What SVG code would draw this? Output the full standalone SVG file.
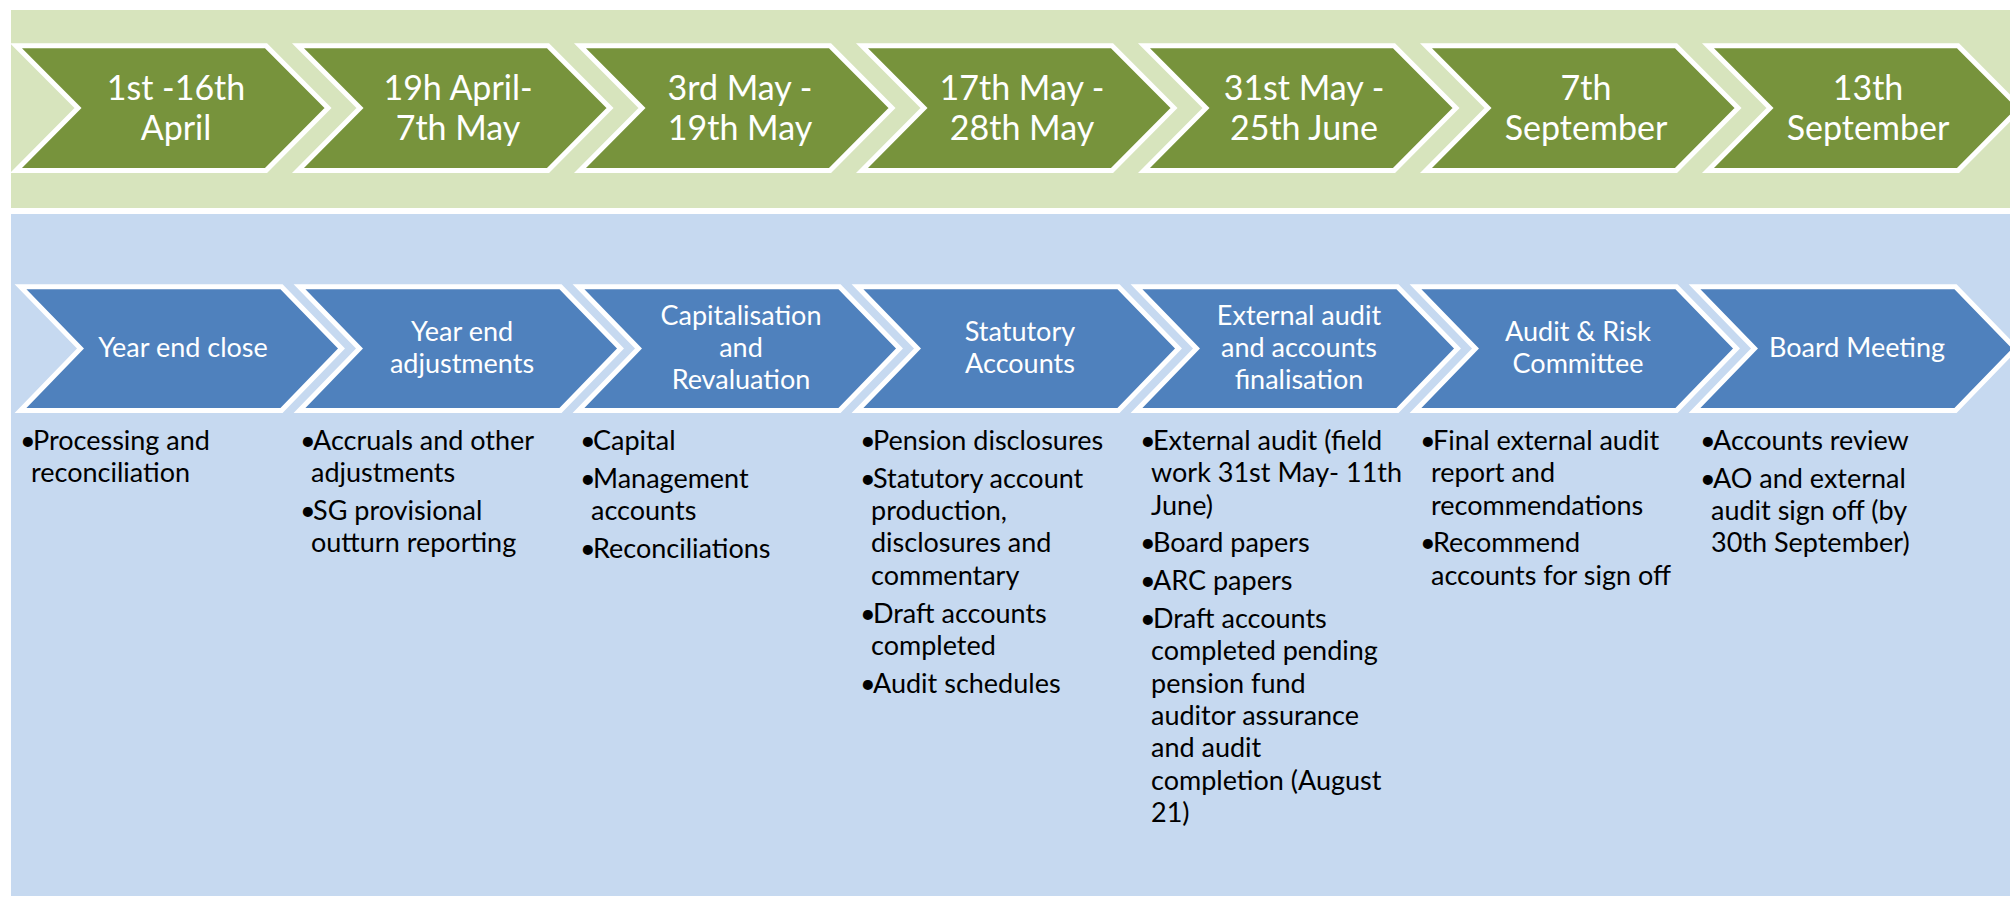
<svg xmlns="http://www.w3.org/2000/svg" width="2010" height="899" viewBox="0 0 2010 899">
<defs>
<style>
.gband{fill:#D7E4BD}
.bband{fill:#C6D9F0}
.gchev{fill:#77933C;stroke:#FFFFFF;stroke-width:5}
.bchev{fill:#4F81BD;stroke:#FFFFFF;stroke-width:5}
.gt{font-family:Lato,"Liberation Sans",sans-serif;font-size:34px;fill:#FFFFFF;text-anchor:middle}
.bt{font-family:Lato,"Liberation Sans",sans-serif;font-size:27px;fill:#FFFFFF;text-anchor:middle}
.li{font-family:Lato,"Liberation Sans",sans-serif;font-size:27px;fill:#000000}
</style>
<path id="gshape" d="M0,45.8 H250 L312,108 L250,170.5 H0 L62,108 Z"/>
<path id="bshape" d="M0,286.7 H261 L321,348.6 L261,410.5 H0 L60,348.6 Z"/>
</defs>
<rect class="gband" x="11" y="10" width="1999" height="198"/>
<rect class="bband" x="11" y="214" width="1999" height="682"/>

<g id="dates">
<g id="date1"><use href="#gshape" class="gchev" x="16"/><text class="gt"><tspan x="176" y="100">1st -16th</tspan><tspan x="176" y="140">April</tspan></text></g>
<g id="date2"><use href="#gshape" class="gchev" x="298"/><text class="gt"><tspan x="458" y="100">19h April-</tspan><tspan x="458" y="140">7th May</tspan></text></g>
<g id="date3"><use href="#gshape" class="gchev" x="580"/><text class="gt"><tspan x="740" y="100">3rd May -</tspan><tspan x="740" y="140">19th May</tspan></text></g>
<g id="date4"><use href="#gshape" class="gchev" x="862"/><text class="gt"><tspan x="1022" y="100">17th May -</tspan><tspan x="1022" y="140">28th May</tspan></text></g>
<g id="date5"><use href="#gshape" class="gchev" x="1144"/><text class="gt"><tspan x="1304" y="100">31st May -</tspan><tspan x="1304" y="140">25th June</tspan></text></g>
<g id="date6"><use href="#gshape" class="gchev" x="1426"/><text class="gt"><tspan x="1586" y="100">7th</tspan><tspan x="1586" y="140">September</tspan></text></g>
<g id="date7"><use href="#gshape" class="gchev" x="1708"/><text class="gt"><tspan x="1868" y="100">13th</tspan><tspan x="1868" y="140">September</tspan></text></g>
</g>

<g id="stages">
<g id="stage1"><use href="#bshape" class="bchev" x="20.5"/><text class="bt"><tspan x="183" y="357">Year end close</tspan></text></g>
<g id="stage2"><use href="#bshape" class="bchev" x="299.5"/><text class="bt"><tspan x="462" y="341">Year end</tspan><tspan x="462" y="373">adjustments</tspan></text></g>
<g id="stage3"><use href="#bshape" class="bchev" x="578.5"/><text class="bt"><tspan x="741" y="325">Capitalisation</tspan><tspan x="741" y="357">and</tspan><tspan x="741" y="389">Revaluation</tspan></text></g>
<g id="stage4"><use href="#bshape" class="bchev" x="857.5"/><text class="bt"><tspan x="1020" y="341">Statutory</tspan><tspan x="1020" y="373">Accounts</tspan></text></g>
<g id="stage5"><use href="#bshape" class="bchev" x="1136.5"/><text class="bt"><tspan x="1299" y="325">External audit</tspan><tspan x="1299" y="357">and accounts</tspan><tspan x="1299" y="389">finalisation</tspan></text></g>
<g id="stage6"><use href="#bshape" class="bchev" x="1415.5"/><text class="bt"><tspan x="1578" y="341">Audit &amp; Risk</tspan><tspan x="1578" y="373">Committee</tspan></text></g>
<g id="stage7"><use href="#bshape" class="bchev" x="1694.5"/><text class="bt"><tspan x="1857" y="357">Board Meeting</tspan></text></g>
</g>

<g id="tasks">
<g id="tasks1"><text class="li"><tspan x="20" y="450">•</tspan><tspan x="33" y="450">Processing and</tspan><tspan x="31" y="482.3">reconciliation</tspan></text></g>
<g id="tasks2"><text class="li"><tspan x="300" y="450">•</tspan><tspan x="313" y="450">Accruals and other</tspan><tspan x="311" y="482.3">adjustments</tspan><tspan x="300" y="520.1">•</tspan><tspan x="313" y="520.1">SG provisional</tspan><tspan x="311" y="552.4">outturn reporting</tspan></text></g>
<g id="tasks3"><text class="li"><tspan x="580" y="450">•</tspan><tspan x="593" y="450">Capital</tspan><tspan x="580" y="487.8">•</tspan><tspan x="593" y="487.8">Management</tspan><tspan x="591" y="520.1">accounts</tspan><tspan x="580" y="557.9">•</tspan><tspan x="593" y="557.9">Reconciliations</tspan></text></g>
<g id="tasks4"><text class="li"><tspan x="860" y="450">•</tspan><tspan x="873" y="450">Pension disclosures</tspan><tspan x="860" y="487.8">•</tspan><tspan x="873" y="487.8">Statutory account</tspan><tspan x="871" y="520.1">production,</tspan><tspan x="871" y="552.4">disclosures and</tspan><tspan x="871" y="584.7">commentary</tspan><tspan x="860" y="622.5">•</tspan><tspan x="873" y="622.5">Draft accounts</tspan><tspan x="871" y="654.8">completed</tspan><tspan x="860" y="692.6">•</tspan><tspan x="873" y="692.6">Audit schedules</tspan></text></g>
<g id="tasks5"><text class="li"><tspan x="1140" y="450">•</tspan><tspan x="1153" y="450">External audit (field</tspan><tspan x="1151" y="482.3">work 31st May- 11th</tspan><tspan x="1151" y="514.6">June)</tspan><tspan x="1140" y="552.4">•</tspan><tspan x="1153" y="552.4">Board papers</tspan><tspan x="1140" y="590.2">•</tspan><tspan x="1153" y="590.2">ARC papers</tspan><tspan x="1140" y="628">•</tspan><tspan x="1153" y="628">Draft accounts</tspan><tspan x="1151" y="660.3">completed pending</tspan><tspan x="1151" y="692.6">pension fund</tspan><tspan x="1151" y="724.9">auditor assurance</tspan><tspan x="1151" y="757.2">and audit</tspan><tspan x="1151" y="789.5">completion (August</tspan><tspan x="1151" y="821.8">21)</tspan></text></g>
<g id="tasks6"><text class="li"><tspan x="1420" y="450">•</tspan><tspan x="1433" y="450">Final external audit</tspan><tspan x="1431" y="482.3">report and</tspan><tspan x="1431" y="514.6">recommendations</tspan><tspan x="1420" y="552.4">•</tspan><tspan x="1433" y="552.4">Recommend</tspan><tspan x="1431" y="584.7">accounts for sign off</tspan></text></g>
<g id="tasks7"><text class="li"><tspan x="1700" y="450">•</tspan><tspan x="1713" y="450">Accounts review</tspan><tspan x="1700" y="487.8">•</tspan><tspan x="1713" y="487.8">AO and external</tspan><tspan x="1711" y="520.1">audit sign off (by</tspan><tspan x="1711" y="552.4">30th September)</tspan></text></g>
</g>
</svg>
